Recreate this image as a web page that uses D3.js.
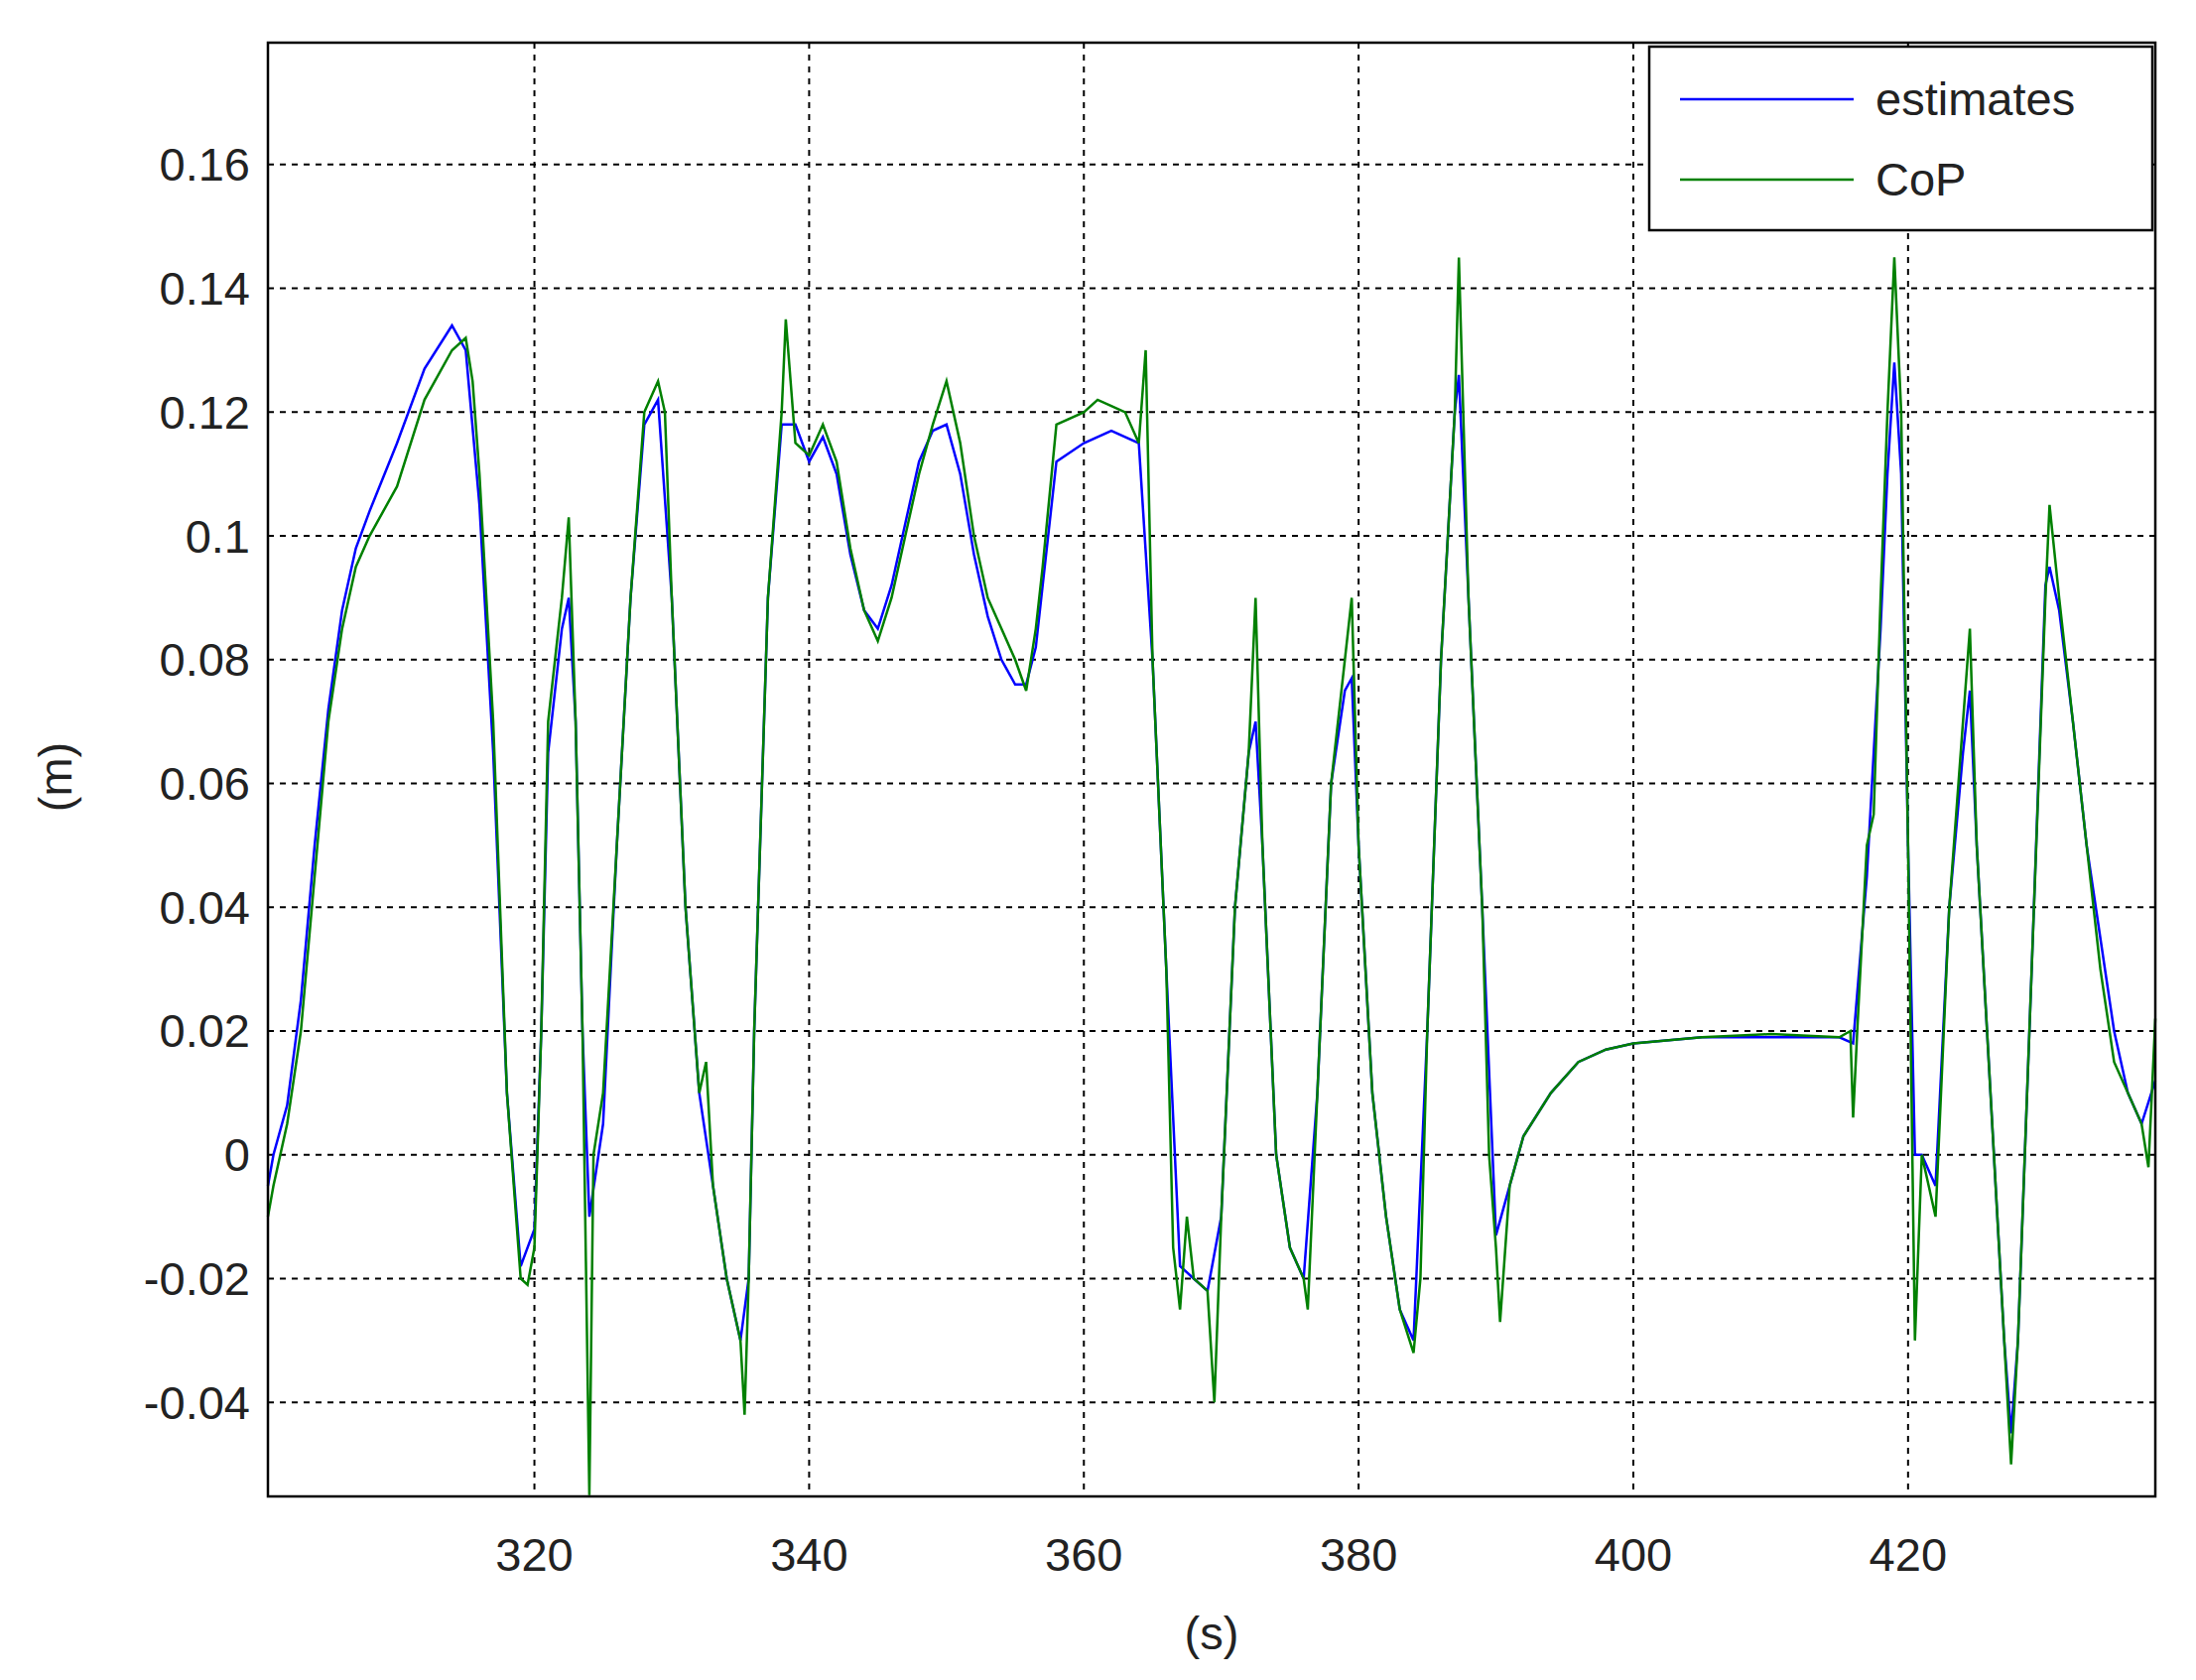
<!DOCTYPE html>
<html><head><meta charset="utf-8">
<script src="https://cdn.jsdelivr.net/npm/d3@7"></script>
<style>body{margin:0;background:#fff}svg{font-family:"Liberation Sans",Arial,sans-serif}</style>
</head><body><div id="chart"></div>
<script>
const xTicks = [320, 340, 360, 380, 400, 420]
const yTicks = [-0.04, -0.02, 0, 0.02, 0.04, 0.06, 0.08, 0.1, 0.12, 0.14, 0.16]
const seriesNames = ['estimates', 'CoP']

// [time (s), value (m)]
const cop = [[300.6,-0.01],[301,-0.005],[302,0.005],[303,0.02],[304,0.045],[305,0.07],[306,0.085],[307,0.095],[308,0.1],[310,0.108],[312,0.122],[314,0.13],[315,0.132],[315.5,0.125],[316,0.11],[317,0.07],[318,0.01],[319,-0.02],[319.5,-0.021],[320,-0.015],[320.5,0.02],[321,0.07],[322,0.09],[322.5,0.103],[323,0.07],[323.5,0.02],[324,-0.055],[324.3,0],[325,0.01],[326,0.05],[327,0.09],[328,0.12],[329,0.125],[329.5,0.12],[330,0.09],[331,0.04],[332,0.01],[332.5,0.015],[333,-0.005],[334,-0.02],[335,-0.03],[335.3,-0.042],[335.6,-0.02],[336,0.02],[337,0.09],[338,0.12],[338.3,0.135],[339,0.115],[340,0.113],[341,0.118],[342,0.112],[343,0.098],[344,0.088],[345,0.083],[346,0.09],[347,0.1],[348,0.11],[349,0.118],[350,0.125],[351,0.115],[352,0.1],[353,0.09],[354,0.085],[355,0.08],[355.8,0.075],[356.5,0.085],[357,0.095],[358,0.118],[360,0.12],[361,0.122],[362,0.121],[363,0.12],[364,0.115],[364.5,0.13],[365,0.08],[366,0.03],[366.5,-0.015],[367,-0.025],[367.5,-0.01],[368,-0.02],[369,-0.022],[369.5,-0.04],[370,-0.01],[371,0.04],[372,0.065],[372.5,0.09],[373,0.05],[374,0],[375,-0.015],[376,-0.02],[376.3,-0.025],[377,0.01],[378,0.06],[379,0.08],[379.5,0.09],[380,0.05],[381,0.01],[382,-0.01],[383,-0.025],[384,-0.032],[384.5,-0.02],[385,0.02],[386,0.08],[387,0.12],[387.3,0.145],[388,0.09],[389,0.04],[389.5,0],[390,-0.015],[390.3,-0.027],[391,-0.005],[392,0.003],[394,0.01],[396,0.015],[398,0.017],[400,0.018],[405,0.019],[410,0.0195],[415,0.019],[415.8,0.02],[416,0.006],[416.3,0.02],[417,0.05],[417.5,0.055],[418,0.09],[418.5,0.12],[419,0.145],[419.5,0.12],[420,0.05],[420.5,-0.03],[421,0],[422,-0.01],[423,0.04],[424,0.07],[424.5,0.085],[425,0.05],[426,0.01],[427,-0.03],[427.5,-0.05],[428,-0.03],[429,0.03],[430,0.09],[430.3,0.105],[431,0.09],[432,0.07],[433,0.05],[434,0.03],[435,0.015],[436,0.01],[437,0.005],[437.5,-0.002],[438,0.022]]

const estimates = [[300.6,-0.005],[301,0],[302,0.008],[303,0.025],[304,0.05],[305,0.072],[306,0.088],[307,0.098],[308,0.104],[310,0.115],[312,0.127],[314,0.134],[315,0.13],[316,0.105],[317,0.065],[318,0.01],[319,-0.018],[320,-0.012],[320.5,0.02],[321,0.065],[322,0.085],[322.5,0.09],[323,0.07],[323.5,0.02],[324,-0.01],[325,0.005],[326,0.05],[327,0.09],[328,0.118],[329,0.122],[330,0.09],[331,0.04],[332,0.01],[333,-0.005],[334,-0.02],[335,-0.03],[335.6,-0.02],[336,0.02],[337,0.09],[338,0.118],[339,0.118],[340,0.112],[341,0.116],[342,0.11],[343,0.097],[344,0.088],[345,0.085],[346,0.092],[347,0.102],[348,0.112],[349,0.117],[350,0.118],[351,0.11],[352,0.097],[353,0.087],[354,0.08],[355,0.076],[355.8,0.076],[356.5,0.082],[357,0.092],[358,0.112],[360,0.115],[362,0.117],[364,0.115],[365,0.08],[366,0.03],[367,-0.018],[368,-0.02],[369,-0.022],[370,-0.01],[371,0.04],[372,0.065],[372.5,0.07],[373,0.05],[374,0],[375,-0.015],[376,-0.02],[377,0.01],[378,0.06],[379,0.075],[379.5,0.077],[380,0.05],[381,0.01],[382,-0.01],[383,-0.025],[384,-0.03],[385,0.02],[386,0.08],[387,0.12],[387.3,0.126],[388,0.09],[389,0.04],[390,-0.013],[391,-0.005],[392,0.003],[394,0.01],[396,0.015],[398,0.017],[400,0.018],[405,0.019],[410,0.019],[415,0.019],[416,0.018],[417,0.045],[418,0.085],[418.5,0.11],[419,0.128],[419.5,0.11],[420,0.05],[420.5,0],[421,0],[422,-0.005],[423,0.04],[424,0.065],[424.5,0.075],[425,0.05],[426,0.01],[427,-0.03],[427.5,-0.045],[428,-0.03],[429,0.03],[430,0.092],[430.3,0.095],[431,0.088],[432,0.07],[433,0.05],[434,0.035],[435,0.02],[436,0.01],[437,0.005],[438,0.012]]

const W = 2213, H = 1693
const m = { left: 270, right: 2172, top: 43, bottom: 1508 }
const svg = d3.select('#chart').append('svg').attr('width', W).attr('height', H)

const x = d3.scaleLinear().domain([300.6, 438]).range([m.left, m.right])
const y = d3.scaleLinear().domain([-0.0552, 0.1797]).range([m.bottom, m.top])

// Grid
svg.selectAll('.gx').data(xTicks).enter().append('line')
    .attr('x1', d => x(d)).attr('x2', d => x(d)).attr('y1', m.top).attr('y2', m.bottom)
    .attr('stroke', '#000').attr('stroke-width', 2).attr('stroke-dasharray', '6,6')
svg.selectAll('.gy').data(yTicks).enter().append('line')
    .attr('x1', m.left).attr('x2', m.right).attr('y1', d => y(d)).attr('y2', d => y(d))
    .attr('stroke', '#000').attr('stroke-width', 2).attr('stroke-dasharray', '6,6')

// Lines
const line = d3.line().x(d => x(d[0])).y(d => y(d[1]))
svg.append('path').datum(estimates).attr('d', line).attr('fill', 'none')
    .attr('stroke', '#0000ff').attr('stroke-width', 2.5)
svg.append('path').datum(cop).attr('d', line).attr('fill', 'none')
    .attr('stroke', '#008000').attr('stroke-width', 2.5)

// Frame
svg.append('rect').attr('x', m.left).attr('y', m.top)
    .attr('width', m.right - m.left).attr('height', m.bottom - m.top)
    .attr('fill', 'none').attr('stroke', '#000').attr('stroke-width', 2.5)

// Tick labels
svg.selectAll('.ty').data(yTicks).enter().append('text')
    .attr('x', 252).attr('y', d => y(d)).attr('dy', '0.35em')
    .attr('text-anchor', 'end').attr('font-size', 47).attr('fill', '#222')
    .text(d => d3.format('~g')(d).replace('\u2212', '-'))
svg.selectAll('.tx').data(xTicks).enter().append('text')
    .attr('x', d => x(d)).attr('y', 1583)
    .attr('text-anchor', 'middle').attr('font-size', 47).attr('fill', '#222')
    .text(d => d)

// Axis labels
svg.append('text').attr('x', 1221).attr('y', 1662).attr('text-anchor', 'middle')
    .attr('font-size', 47).attr('fill', '#222').text('(s)')
svg.append('text').attr('transform', 'translate(72,783) rotate(-90)').attr('text-anchor', 'middle')
    .attr('font-size', 47).attr('fill', '#222').text('(m)')

// Legend
const lg = svg.append('g')
lg.append('rect').attr('x', 1662).attr('y', 47).attr('width', 507).attr('height', 185)
    .attr('fill', '#fff').attr('stroke', '#000').attr('stroke-width', 2.5)
const colors = ['#0000ff', '#008000']
seriesNames.forEach((n, i) => {
    const yy = 100 + i * 81
    lg.append('line').attr('x1', 1693).attr('x2', 1868).attr('y1', yy).attr('y2', yy)
        .attr('stroke', colors[i]).attr('stroke-width', 2.5)
    lg.append('text').attr('x', 1890).attr('y', yy).attr('dy', '0.35em')
        .attr('font-size', 47).attr('fill', '#222').text(n)
})
</script></body></html>
